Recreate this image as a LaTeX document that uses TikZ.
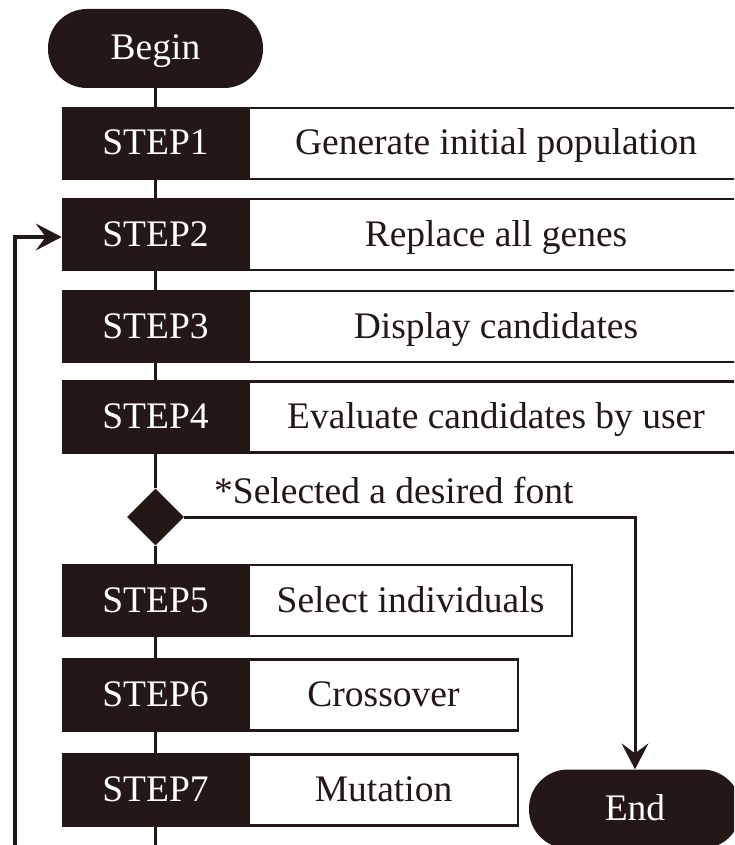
\documentclass[tikz,border=0pt]{standalone}
\usepackage{fontspec}
\setmainfont{Liberation Serif}
\usetikzlibrary{shapes.geometric}
\definecolor{ink}{RGB}{35,24,21}
\begin{document}
\begin{tikzpicture}[x=1pt,y=1pt,
  every node/.style={font=\fontsize{37.5}{45}\selectfont, text height=25pt, text depth=2pt},
  stepbox/.style={draw=ink, line width=2.6pt, fill=ink, text=white,
    minimum width=185pt, minimum height=71pt, inner sep=0pt},
  taskbox/.style={draw=ink, line width=2.6pt, fill=white, text=ink,
    minimum height=71pt, inner sep=0pt},
  terminal/.style={fill=ink, text=white, rounded corners=39pt,
    minimum width=215pt, minimum height=79pt, inner sep=0pt},
  decision/.style={diamond, fill=ink, minimum width=57pt, minimum height=57pt,
    inner sep=0pt, text height=, text depth=},
  link/.style={draw=ink, line width=3pt},
  dart/.pic={\fill[ink] (0,0) -- (-26,13.5) -- (-16,0) -- (-26,-13.5) -- cycle;}]
% layout in pixel-like units measured downward from the top edge
\useasboundingbox (0,0) rectangle (734,-845);
\clip (0,0) rectangle (734,-845);

% start / end terminals
\node[terminal] (begin) at (155.5,-48.5) {Begin};
\node[terminal, minimum width=212pt] (end) at (635,-809) {End};

% step labels
\node[stepbox] (s1) at (155.5,-143.5) {STEP1};
\node[stepbox] (s2) at (155.5,-234.5) {STEP2};
\node[stepbox] (s3) at (155.5,-326.5) {STEP3};
\node[stepbox] (s4) at (155.5,-417)   {STEP4};
\node[stepbox] (s5) at (155.5,-600.5) {STEP5};
\node[stepbox] (s6) at (155.5,-695)   {STEP6};
\node[stepbox] (s7) at (155.5,-790)   {STEP7};

% step descriptions
\node[taskbox, minimum width=494pt] (t1) at (496,-143.5) {Generate initial population};
\node[taskbox, minimum width=494pt] (t2) at (496,-234.5) {Replace all genes};
\node[taskbox, minimum width=494pt] (t3) at (496,-326.5) {Display candidates};
\node[taskbox, minimum width=494pt] (t4) at (496,-417)   {Evaluate candidates by user};
\node[taskbox, minimum width=323pt] (t5) at (410.5,-600.5) {Select individuals};
\node[taskbox, minimum width=269pt] (t6) at (383.5,-695)   {Crossover};
\node[taskbox, minimum width=269pt] (t7) at (383.5,-790)   {Mutation};

% termination check
\node[decision] (chk) at (155.5,-517) {};
\node[anchor=base west, inner sep=0pt, text=ink] (cond) at (214,-503) {*Selected a desired font};

% helper points
\coordinate (bottom) at (155.5,-860);
\coordinate (corner) at (635,-517);
\coordinate (loopbot) at (15,-860);
\coordinate (loopturn) at (15,-237);
\coordinate (looptip) at (s2.west |- loopturn);

% main flow
\draw[link] (begin) -- (s1);
\draw[link] (s1) -- (s2);
\draw[link] (s2) -- (s3);
\draw[link] (s3) -- (s4);
\draw[link] (s4) -- (chk);
\draw[link] (chk) -- (s5);
\draw[link] (s5) -- (s6);
\draw[link] (s6) -- (s7);
\draw[link] (s7) -- (bottom);

% exit branch, with its arrowhead
\draw[link] (chk.east) -- (corner) -- ([yshift=14pt]end.north);
\pic[rotate=-90] at (end.north) {dart};

% loop back to STEP2, with its arrowhead
\draw[link, line width=3.6pt] (loopbot) -- (loopturn) -- ([xshift=-14pt]looptip);
\pic at (looptip) {dart};
\end{tikzpicture}
\end{document}
